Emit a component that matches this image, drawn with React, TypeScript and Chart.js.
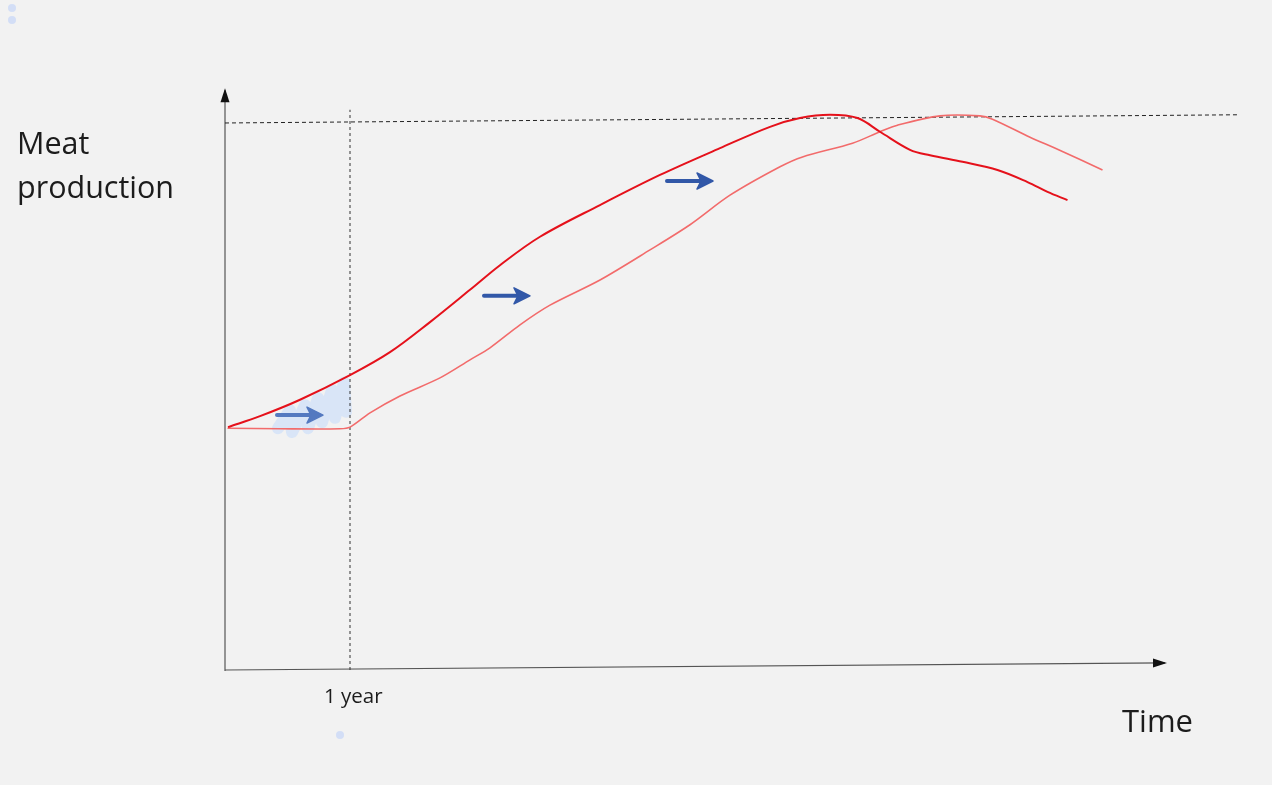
import React, { useEffect, useRef } from "react";
import { Chart, registerables } from "chart.js";

Chart.register(...registerables);

// x in years (1 year marker), y in % of the maximum level (dashed line = 100)
const fastX = [0.024, 0.28, 0.6, 1.0, 1.32, 1.64, 1.96, 2.2, 2.52, 3.0, 3.48, 3.96, 4.36, 4.6, 4.84, 5.06, 5.24, 5.48, 5.64, 5.9, 6.18, 6.42, 6.58, 6.74];
const fastY = [44.4, 46.4, 49.4, 53.9, 58.1, 63.6, 69.5, 74.0, 79.2, 85.0, 90.5, 95.4, 99.3, 100.9, 101.5, 100.9, 98.4, 95.1, 94.1, 92.9, 91.4, 89.2, 87.4, 85.9];

const slowX = [0.02, 0.44, 0.92, 1.0, 1.16, 1.4, 1.72, 1.96, 2.12, 2.36, 2.6, 3.0, 3.4, 3.72, 4.04, 4.44, 4.62, 5.02, 5.24, 5.38, 5.72, 6.04, 6.14, 6.44, 6.66, 7.02];
const slowY = [44.2, 44.1, 44.1, 44.4, 47.0, 50.1, 53.4, 56.7, 58.9, 63.1, 66.7, 71.3, 76.8, 81.4, 86.8, 92.0, 93.8, 96.3, 98.4, 99.6, 101.3, 101.3, 100.7, 97.4, 95.2, 91.4];

const maxLineX = [0, 8.1];
const maxLineY = [100, 101.5];
const yearLineX = [1, 1];
const yearLineY = [0, 102.4];

const xAxisX = [0, 7.52];
const xAxisY = [0, 1.3];
const yAxisX = [0, 0];
const yAxisY = [0, 106];

const arrowX0 = [0.416, 2.072, 3.536];
const arrowX1 = [0.784, 2.44, 3.904];
const arrowY = [46.6, 68.4, 89.4];

const scribbleX = [0.424, 0.52, 0.536, 0.64, 0.664, 0.744, 0.776, 0.856, 0.88, 0.952, 0.968];
const scribbleY = [44.2, 47.5, 43.5, 48.4, 44.2, 49.7, 45.3, 51.2, 46.1, 52.5, 47.2];

const yLabel = ["Meat", "production"];
const xLabel = "Time";
const yearLabel = "1 year";

const pts = (xs: number[], ys: number[]) => xs.map((x, i) => ({ x, y: ys[i] }));

export default function App() {
  const ref = useRef<HTMLCanvasElement | null>(null);

  useEffect(() => {
    document.body.style.margin = "0";
    document.body.style.background = "#f2f2f2";
    const canvas = ref.current!;
    const overlay = {
      id: "overlay",
      beforeDatasetsDraw(chart: any) {
        const ctx = chart.ctx;
        const xs = chart.scales.x;
        const ys = chart.scales.y;
        ctx.save();
        // scribble
        ctx.strokeStyle = "rgba(208, 224, 248, 0.75)";
        ctx.lineWidth = 12;
        ctx.lineJoin = "round";
        ctx.lineCap = "round";
        ctx.beginPath();
        scribbleX.forEach((x, i) => {
          const px = xs.getPixelForValue(x);
          const py = ys.getPixelForValue(scribbleY[i]);
          if (i === 0) ctx.moveTo(px, py);
          else ctx.lineTo(px, py);
        });
        ctx.stroke();
        // axes
        ctx.strokeStyle = "#555";
        ctx.fillStyle = "#111";
        ctx.lineWidth = 1.2;
        ctx.lineCap = "butt";
        const ax0 = xs.getPixelForValue(xAxisX[0]);
        const ay0 = ys.getPixelForValue(xAxisY[0]);
        const ax1 = xs.getPixelForValue(xAxisX[1]);
        const ay1 = ys.getPixelForValue(xAxisY[1]);
        ctx.beginPath();
        ctx.moveTo(ax0, ay0);
        ctx.lineTo(ax1, ay1);
        ctx.stroke();
        ctx.beginPath();
        ctx.moveTo(ax1 + 2, ay1);
        ctx.lineTo(ax1 - 12, ay1 - 4.5);
        ctx.lineTo(ax1 - 12, ay1 + 4.5);
        ctx.closePath();
        ctx.fill();
        const bx0 = xs.getPixelForValue(yAxisX[0]);
        const by0 = ys.getPixelForValue(yAxisY[0]);
        const by1 = ys.getPixelForValue(yAxisY[1]);
        ctx.beginPath();
        ctx.moveTo(bx0, by0 + 1);
        ctx.lineTo(bx0, by1);
        ctx.stroke();
        ctx.beginPath();
        ctx.moveTo(bx0, by1 - 2);
        ctx.lineTo(bx0 - 4.5, by1 + 12);
        ctx.lineTo(bx0 + 4.5, by1 + 12);
        ctx.closePath();
        ctx.fill();
        ctx.restore();
      },
      afterDatasetsDraw(chart: any) {
        const ctx = chart.ctx;
        const xs = chart.scales.x;
        const ys = chart.scales.y;
        ctx.save();
        arrowY.forEach((yv, i) => {
          const x0 = xs.getPixelForValue(arrowX0[i]);
          const x1 = xs.getPixelForValue(arrowX1[i]);
          const y = ys.getPixelForValue(yv);
          const col = i === 0 ? "#5479c0" : "#3258a8";
          ctx.strokeStyle = col;
          ctx.fillStyle = col;
          ctx.lineWidth = 4;
          ctx.lineCap = "round";
          ctx.beginPath();
          ctx.moveTo(x0, y);
          ctx.lineTo(x1 - 10, y);
          ctx.stroke();
          ctx.lineJoin = "round";
          ctx.lineWidth = 1.5;
          ctx.beginPath();
          ctx.moveTo(x1, y);
          ctx.lineTo(x1 - 16, y - 8);
          ctx.lineTo(x1 - 12, y);
          ctx.lineTo(x1 - 16, y + 8);
          ctx.closePath();
          ctx.fill();
          ctx.stroke();
        });
        ctx.restore();
      },
    };

    const chart = new Chart(canvas, {
      type: "line",
      data: {
        datasets: [
          {
            data: pts(fastX, fastY),
            borderColor: "#e5111b",
            borderWidth: 2,
            pointRadius: 0,
            tension: 0.35,
          },
          {
            data: pts(slowX, slowY),
            borderColor: "#f26b6b",
            borderWidth: 1.6,
            pointRadius: 0,
            tension: 0.3,
          },
          {
            data: pts(maxLineX, maxLineY),
            borderColor: "#222",
            borderWidth: 1,
            borderDash: [4, 3],
            pointRadius: 0,
          },
          {
            data: pts(yearLineX, yearLineY),
            borderColor: "#333",
            borderWidth: 1,
            borderDash: [3, 3],
            pointRadius: 0,
          },
        ],
      },
      options: {
        animation: false,
        responsive: false,
        parsing: false as any,
        layout: { padding: { left: 225, right: 32, top: 90, bottom: 115 } },
        scales: {
          x: { type: "linear", min: 0, max: 8.12, display: false },
          y: { type: "linear", min: 0, max: 106.03, display: false },
        },
        plugins: { legend: { display: false }, tooltip: { enabled: false } },
      },
      plugins: [overlay],
    });
    return () => chart.destroy();
  }, []);

  const font = "'Open Sans', 'Noto Sans', sans-serif";
  const dot = (left: number, top: number) => (
    <div
      style={{
        position: "absolute",
        left,
        top,
        width: 8,
        height: 8,
        borderRadius: 4,
        background: "#d3def6",
      }}
    />
  );

  return (
    <div style={{ position: "relative", width: 1272, height: 785, background: "#f2f2f2", overflow: "hidden" }}>
      <canvas ref={ref} width={1272} height={785} style={{ position: "absolute", left: 0, top: 0 }} />
      {dot(8, 4)}
      {dot(8, 16)}
      {dot(336, 731)}
      <div style={{ position: "absolute", left: 17, top: 120, fontFamily: font, fontSize: 30.5, lineHeight: "44px", color: "#1c1c1c" }}>
        {yLabel.map((t) => (
          <div key={t}>{t}</div>
        ))}
      </div>
      <div style={{ position: "absolute", left: 1122, top: 698, fontFamily: font, fontSize: 31, lineHeight: "44px", color: "#1c1c1c" }}>{xLabel}</div>
      <div style={{ position: "absolute", left: 324, top: 681, fontFamily: font, fontSize: 20.5, lineHeight: "28px", color: "#1c1c1c" }}>{yearLabel}</div>
    </div>
  );
}
